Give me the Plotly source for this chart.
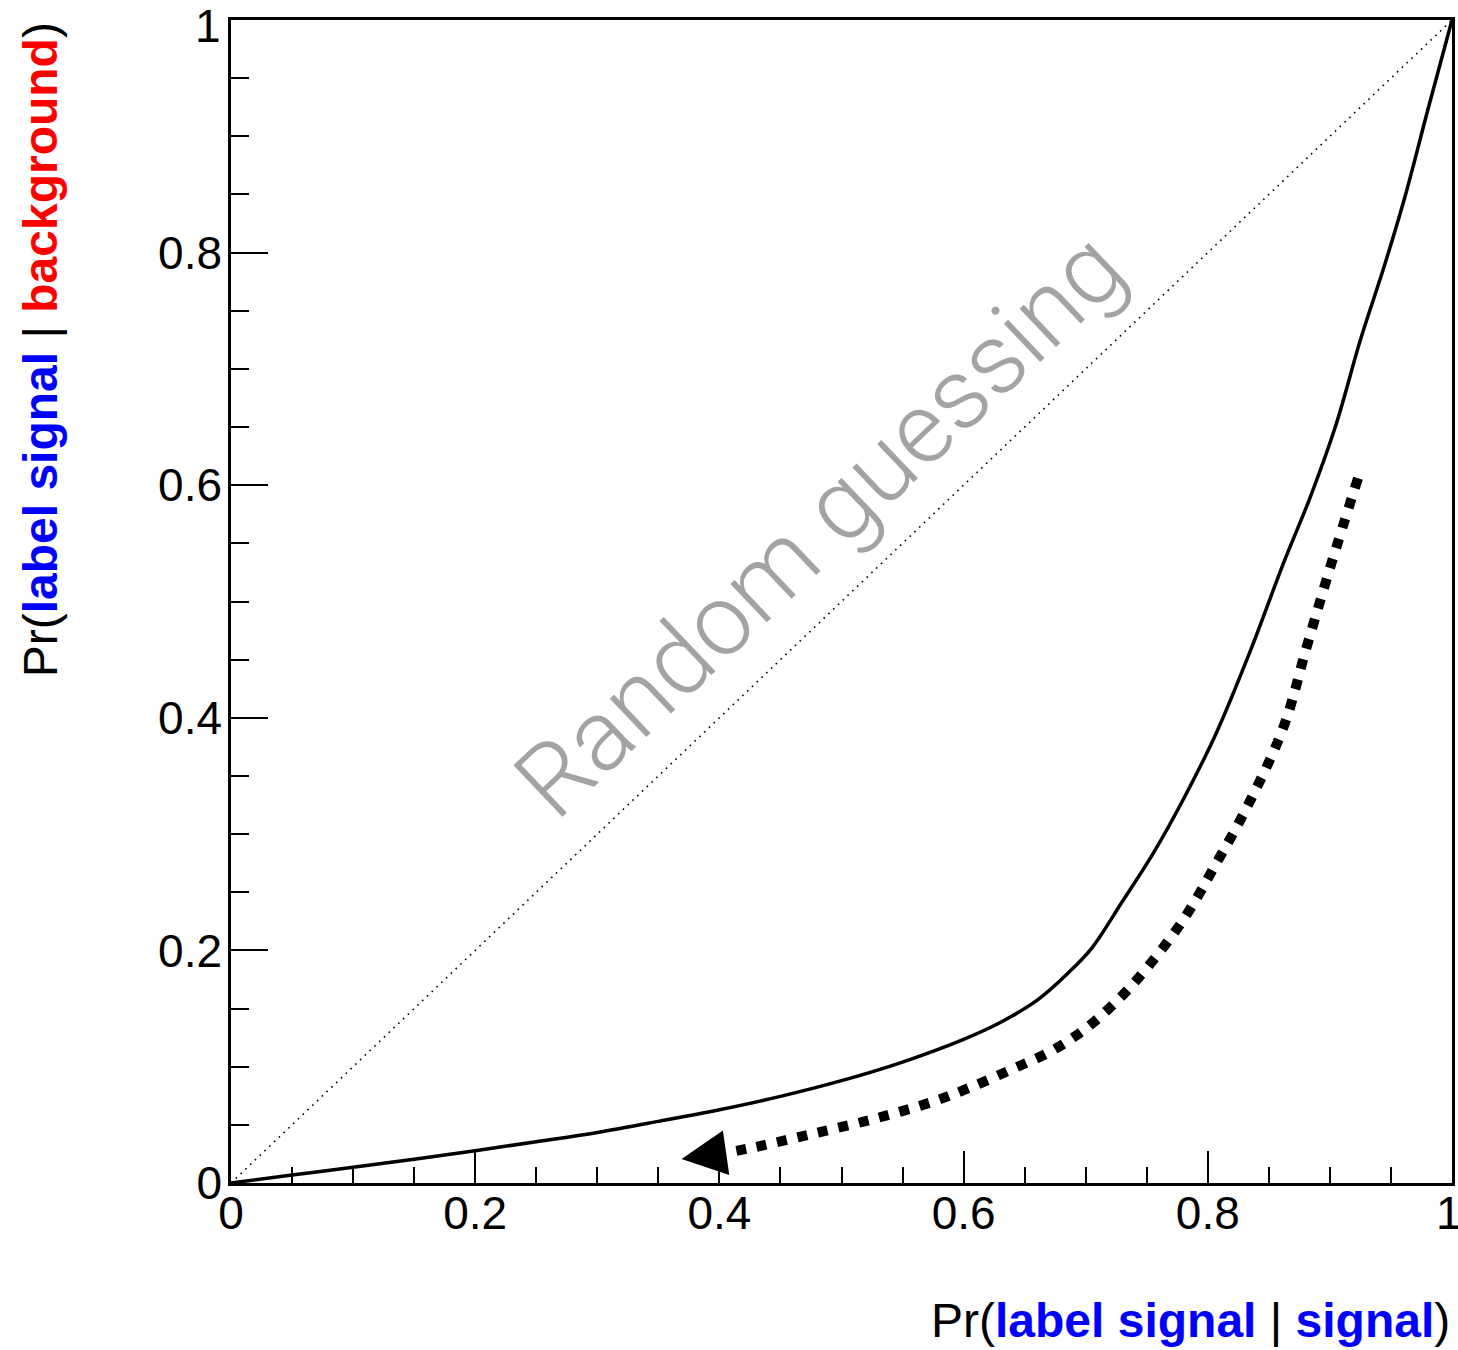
import plotly.graph_objects as go

# ROC-style curve: Pr(label signal | signal) vs Pr(label signal | background)
roc_x = [0.0, 0.05, 0.1, 0.15, 0.2, 0.25, 0.3, 0.35, 0.4, 0.45, 0.5, 0.55, 0.6, 0.63, 0.66,
         0.685, 0.705, 0.73, 0.755, 0.78, 0.807, 0.835, 0.862, 0.884, 0.905, 0.925, 0.945,
         0.962, 0.98, 1.0]
roc_y = [0.0, 0.0068, 0.0136, 0.0205, 0.0278, 0.0355, 0.0435, 0.0530, 0.0630, 0.0745, 0.0880,
         0.1040, 0.1235, 0.1380, 0.1570, 0.1800, 0.2020, 0.2420, 0.2830, 0.3300, 0.3870,
         0.4580, 0.5330, 0.5900, 0.6520, 0.7250, 0.7900, 0.8500, 0.9220, 1.0]

# reference diagonal for random guessing
diag_x = [0.0, 1.0]
diag_y = [0.0, 1.0]

# dotted arrow path (direction of tightening the cut)
arrow_x = [0.923, 0.901, 0.881, 0.862, 0.832, 0.807, 0.781, 0.751, 0.726, 0.699, 0.671,
           0.640, 0.605, 0.575, 0.526, 0.475, 0.430, 0.405]
arrow_y = [0.606, 0.532, 0.461, 0.392, 0.323, 0.275, 0.228, 0.186, 0.157, 0.132, 0.113,
           0.098, 0.082, 0.070, 0.055, 0.042, 0.031, 0.026]
arrow_tip = [0.369, 0.0206]

tick_vals = [0, 0.2, 0.4, 0.6, 0.8, 1]
tick_text = ["0", "0.2", "0.4", "0.6", "0.8", "1"]

BLUE = "#0000ff"
RED = "#ff0000"
FONT = "Liberation Sans, Arial, Helvetica, sans-serif"
TICK_FONT = dict(family=FONT, size=46, color="black")

fig = go.Figure()

fig.add_trace(go.Scatter(x=diag_x, y=diag_y, mode="lines",
                         line=dict(color="black", width=1.6, dash="1.6px,5px"),
                         hoverinfo="skip", showlegend=False))

fig.add_trace(go.Scatter(x=roc_x, y=roc_y, mode="lines",
                         line=dict(color="black", width=3.5, shape="spline", smoothing=1.0),
                         showlegend=False))

fig.add_trace(go.Scatter(x=arrow_x, y=arrow_y, mode="lines",
                         line=dict(color="black", width=10, dash="10px,11px",
                                   shape="spline", smoothing=1.0),
                         hoverinfo="skip", showlegend=False))

# arrowhead at the end of the dotted path
fig.add_annotation(x=arrow_tip[0], y=arrow_tip[1], ax=arrow_x[-1], ay=arrow_y[-1],
                   xref="x", yref="y", axref="x", ayref="y",
                   text="", showarrow=True, arrowhead=2, arrowsize=3.0, arrowwidth=3,
                   arrowcolor="black")

fig.add_annotation(x=0.482, y=0.566, xref="x", yref="y", text="Random guessing",
                   showarrow=False, textangle=-43.6,
                   font=dict(family="Roboto", size=100, color="#a3a3a3", weight=300))

x_title = ("Pr(<span style='color:%s'><b>label signal</b></span> | "
           "<span style='color:%s'><b>signal</b></span>)") % (BLUE, BLUE)
y_title = ("Pr(<span style='color:%s'><b>label signal</b></span> | "
           "<span style='color:%s'><b>background</b></span>)") % (BLUE, RED)

fig.add_annotation(x=1.0, y=-0.1185, xref="paper", yref="paper", text=x_title,
                   showarrow=False, xanchor="right", yanchor="middle",
                   font=dict(family=FONT, size=48, color="black"))
fig.add_annotation(x=-0.1564, y=0.716, xref="paper", yref="paper", text=y_title,
                   showarrow=False, xanchor="center", yanchor="middle", textangle=-90,
                   font=dict(family=FONT, size=48, color="black"))

# the end labels ("1") are nudged inwards so they stay inside the page
axis_labels = tick_text[:-1] + [""]
fig.add_annotation(x=tick_vals[0], y=tick_vals[-1], xref="x", yref="y", text=tick_text[-1],
                   showarrow=False, xanchor="right", yanchor="middle",
                   xshift=-8, yshift=-6, font=TICK_FONT)
fig.add_annotation(x=tick_vals[-1], y=tick_vals[0], xref="x", yref="y", text=tick_text[-1],
                   showarrow=False, xanchor="center", yanchor="middle",
                   xshift=-3, yshift=-30, font=TICK_FONT)

axis_common = dict(range=[0, 1], showgrid=False, zeroline=False, showline=True,
                   linecolor="black", linewidth=2.5, mirror=True,
                   ticks="inside", tickwidth=2, tickcolor="black",
                   tickvals=tick_vals, ticktext=axis_labels,
                   ticklabeloverflow="allow", automargin=False,
                   tickfont=TICK_FONT)

fig.update_xaxes(**axis_common, ticklen=32, ticklabelstandoff=-12,
                 minor=dict(dtick=0.05, ticks="inside", ticklen=16, tickwidth=2, tickcolor="black"))
fig.update_yaxes(**axis_common, ticklen=37, ticklabelstandoff=-3,
                 minor=dict(dtick=0.05, ticks="inside", ticklen=18, tickwidth=2, tickcolor="black"))

fig.update_layout(width=1458, height=1350,
                  margin=dict(l=231, r=6, t=20, b=167, autoexpand=False),
                  paper_bgcolor="white", plot_bgcolor="white",
                  showlegend=False)

fig.write_html("out.html")
